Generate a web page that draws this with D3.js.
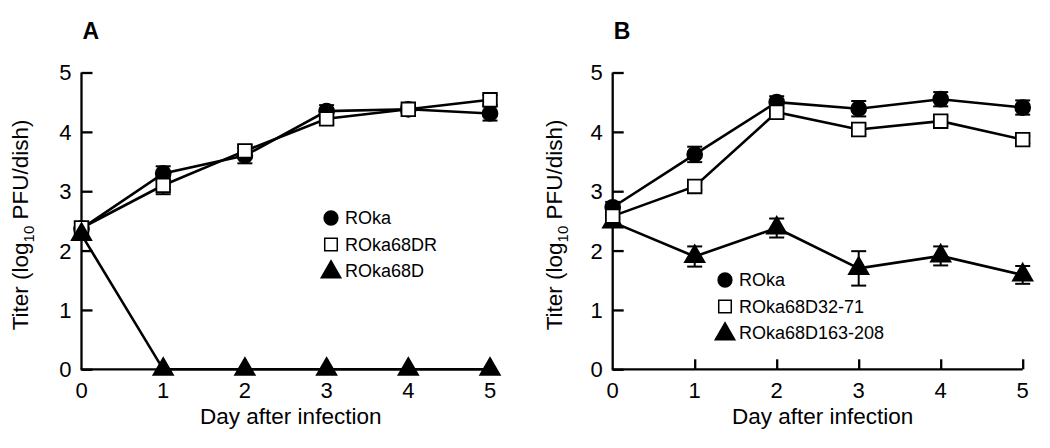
<!DOCTYPE html>
<html>
<head>
<meta charset="utf-8">
<script src="https://cdn.jsdelivr.net/npm/d3@7"></script>
<style>
  html, body { margin: 0; padding: 0; background: #fff; }
  svg { display: block; }
  text { font-family: "Liberation Sans", Arial, Helvetica, sans-serif; fill: #000; }
</style>
</head>
<body>
<svg id="chart" width="1050" height="448"></svg>
<script>
// ---------- data ----------
const days = [0, 1, 2, 3, 4, 5];
const yTicks = [0, 1, 2, 3, 4, 5];
const xTickLabels = ["0", "1", "2", "3", "4", "5"];
const yTickLabels = ["0", "1", "2", "3", "4", "5"];
const xAxisTitle = "Day after infection";

// Panel A
const panelATitle = "A";
const seriesNamesA = ["ROka", "ROka68DR", "ROka68D"];
const aROka = [2.37, 3.30, 3.60, 4.35, 4.38, 4.31];
const aROkaErr = [0.06, 0.12, 0.13, 0.10, 0.06, 0.12];
const aROka68DR = [2.38, 3.10, 3.68, 4.22, 4.38, 4.54];
const aROka68DRErr = [0.06, 0.15, 0.10, 0.08, 0.06, 0.08];
const aROka68D = [2.27, 0, 0, 0, 0, 0];
const aROka68DErr = [0, 0, 0, 0, 0, 0];

// Panel B
const panelBTitle = "B";
const seriesNamesB = ["ROka", "ROka68D32-71", "ROka68D163-208"];
const bROka = [2.73, 3.62, 4.50, 4.39, 4.55, 4.41];
const bROkaErr = [0.09, 0.13, 0.10, 0.13, 0.12, 0.12];
const bROka68D32 = [2.58, 3.08, 4.33, 4.04, 4.18, 3.87];
const bROka68D32Err = [0.06, 0.06, 0.08, 0.08, 0.08, 0.06];
const bROka68D163 = [2.48, 1.90, 2.38, 1.70, 1.91, 1.59];
const bROka68D163Err = [0.08, 0.17, 0.16, 0.29, 0.16, 0.15];

// ---------- drawing ----------
const svg = d3.select("#chart");

const symbolTypes = { circle: d3.symbolCircle, square: d3.symbolSquare, triangle: d3.symbolTriangle };
const symbolSize = { circle: 175, square: 185, triangle: 165 };
const symbolFill = { circle: "#000", square: "#fff", triangle: "#000" };

function drawPanel(cfg) {
  const g = svg.append("g");
  const x = d3.scaleLinear().domain([0, 5]).range([cfg.x0, cfg.x1]);
  const y = d3.scaleLinear().domain([0, 5]).range([369.3, 72.5]);

  // panel letter
  g.append("text").attr("x", cfg.x0 + 1).attr("y", 39)
    .attr("font-size", 23).attr("font-weight", "bold").text(cfg.title);

  // y axis
  const yAxis = d3.axisRight(y).tickValues(yTicks).tickSize(11).tickFormat(() => "");
  const ya = g.append("g").attr("transform", `translate(${cfg.x0},0)`).call(yAxis);
  ya.select(".domain").attr("d", `M0,${y(5)}V${y(0)}`).attr("stroke-width", 2.3);
  ya.selectAll(".tick line").attr("stroke-width", 2.3);
  g.selectAll(".ytl").data(yTicks).enter().append("text")
    .attr("x", cfg.x0 - 10).attr("y", d => y(d)).attr("dy", "0.36em")
    .attr("text-anchor", "end").attr("font-size", 22)
    .text((d, i) => yTickLabels[i]);

  // x axis
  const xAxis = d3.axisTop(x).tickValues(days.slice(1)).tickSize(10).tickFormat(() => "");
  const xa = g.append("g").attr("transform", `translate(0,${y(0)})`).call(xAxis);
  xa.select(".domain").attr("d", `M${x(0) - 1},0H${x(5)}`).attr("stroke-width", 2.3);
  xa.selectAll(".tick line").attr("stroke-width", 2.3);
  g.selectAll(".xtl").data(days).enter().append("text")
    .attr("x", d => x(d)).attr("y", 397.5)
    .attr("text-anchor", "middle").attr("font-size", 22)
    .text((d, i) => xTickLabels[i]);

  // axis titles
  g.append("text").attr("x", (x(0) + x(5)) / 2 + 5).attr("y", 424)
    .attr("text-anchor", "middle").attr("font-size", 22.5).text(xAxisTitle);
  const yt = g.append("text")
    .attr("transform", `translate(${cfg.x0 - cfg.yTitleOff},${y(2.5) + 4}) rotate(-90)`)
    .attr("text-anchor", "middle").attr("font-size", 22.5)
    .attr("fill", "#000").style("opacity", 0.99);
  yt.append("tspan").text("Titer (log");
  yt.append("tspan").attr("font-size", 15).attr("dy", 6).text("10");
  yt.append("tspan").attr("dy", -6).text(" PFU/dish)");

  // lines
  const line = d3.line().x((d, i) => x(days[i])).y(d => y(d));
  cfg.series.forEach(s => {
    g.append("path").datum(s.values).attr("d", line)
      .attr("fill", "none").attr("stroke", "#000").attr("stroke-width", 2.6)
      .attr("stroke-linejoin", "miter");
  });

  // error bars + markers in draw order
  cfg.drawOrder.forEach(k => {
    const s = cfg.series[k];
    const eg = g.append("g");
    days.forEach((d, i) => {
      const e = s.err[i];
      if (e <= 0) return;
      const cx = x(d), top = y(s.values[i] + e), bot = y(s.values[i] - e);
      eg.append("line").attr("x1", cx).attr("x2", cx).attr("y1", top).attr("y2", bot)
        .attr("stroke", "#000").attr("stroke-width", 2);
      [top, bot].forEach(yy => eg.append("line").attr("x1", cx - 7.5).attr("x2", cx + 7.5)
        .attr("y1", yy).attr("y2", yy).attr("stroke", "#000").attr("stroke-width", 2));
    });
    g.append("g").selectAll("path").data(s.values).enter().append("path")
      .attr("transform", (v, i) => `translate(${x(days[i])},${y(v)})`)
      .attr("d", d3.symbol().type(symbolTypes[s.shape]).size(symbolSize[s.shape]))
      .attr("fill", symbolFill[s.shape]).attr("stroke", "#000").attr("stroke-width", 1.8);
  });

  // legend
  cfg.series.forEach((s, i) => {
    const ly = cfg.legY + i * 26.5;
    g.append("path").attr("transform", `translate(${cfg.legX},${ly + (s.shape === "triangle" ? 1 : 0)})`)
      .attr("d", d3.symbol().type(symbolTypes[s.shape]).size(symbolSize[s.shape] * (s.shape === "triangle" ? 1 : 0.85)))
      .attr("fill", symbolFill[s.shape]).attr("stroke", "#000").attr("stroke-width", 1.5);
    g.append("text").attr("x", cfg.legX + 14).attr("y", ly).attr("dy", "0.36em")
      .attr("font-size", 18).text(s.name);
  });
}

drawPanel({
  title: panelATitle, x0: 81.5, x1: 490, yTitleOff: 54, legX: 331, legY: 218,
  series: [
    { name: seriesNamesA[0], values: aROka, err: aROkaErr, shape: "circle" },
    { name: seriesNamesA[1], values: aROka68DR, err: aROka68DRErr, shape: "square" },
    { name: seriesNamesA[2], values: aROka68D, err: aROka68DErr, shape: "triangle" }
  ],
  drawOrder: [0, 1, 2]
});

drawPanel({
  title: panelBTitle, x0: 612.7, x1: 1022.7, yTitleOff: 51, legX: 725, legY: 280,
  series: [
    { name: seriesNamesB[0], values: bROka, err: bROkaErr, shape: "circle" },
    { name: seriesNamesB[1], values: bROka68D32, err: bROka68D32Err, shape: "square" },
    { name: seriesNamesB[2], values: bROka68D163, err: bROka68D163Err, shape: "triangle" }
  ],
  drawOrder: [2, 0, 1]
});
</script>
</body>
</html>
